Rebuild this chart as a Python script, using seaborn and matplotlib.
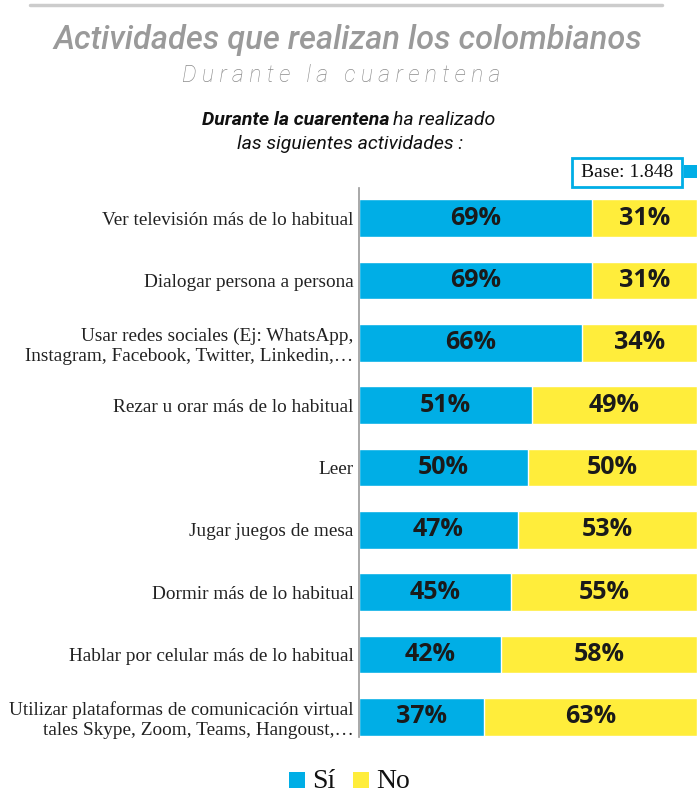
import pandas as pd
import matplotlib.pyplot as plt
import seaborn as sns
from matplotlib.patches import Rectangle

actividades = [
    "Ver televisión más de lo habitual",
    "Dialogar persona a persona",
    "Usar redes sociales (Ej: WhatsApp,\nInstagram, Facebook, Twitter, Linkedin,…",
    "Rezar u orar más de lo habitual",
    "Leer",
    "Jugar juegos de mesa",
    "Dormir más de lo habitual",
    "Hablar por celular más de lo habitual",
    "Utilizar plataformas de comunicación virtual\ntales Skype, Zoom, Teams, Hangoust,…",
]
si = [69, 69, 66, 51, 50, 47, 45, 42, 37]
no = [31, 31, 34, 49, 50, 53, 55, 58, 63]

AZUL = "#00AEE6"
AMARILLO = "#FFED3B"

df = pd.DataFrame({"actividad": actividades, "si": si, "no": no})
df["total"] = df["si"] + df["no"]

sns.set_style("white")
fig = plt.figure(figsize=(7, 7.94), dpi=100)
ax = fig.add_axes([0.513, 0.072, 0.483, 0.691])

sns.barplot(data=df, y="actividad", x="total", color=AMARILLO, orient="h",
            width=0.6, ax=ax, saturation=1)
sns.barplot(data=df, y="actividad", x="si", color=AZUL, orient="h",
            width=0.6, ax=ax, saturation=1)

ax.set_xlim(0, 100)
ax.set_ylim(len(df) - 1 + 0.32, -0.48)
ax.set_xlabel("")
ax.set_ylabel("")
ax.set_xticks([])
for s in ["top", "right", "bottom"]:
    ax.spines[s].set_visible(False)
ax.spines["left"].set_color("#999999")
ax.spines["left"].set_linewidth(1.2)
ax.tick_params(axis="y", length=0, pad=4)
for lbl in ax.get_yticklabels():
    lbl.set_fontfamily("Liberation Serif")
    lbl.set_fontsize(13.9)
    lbl.set_color("#222222")
    lbl.set_horizontalalignment("right")
    lbl.set_multialignment("right")

# etiquetas de porcentaje
for i, row in df.iterrows():
    ax.text(row["si"] / 2, i, f"{row['si']}%", ha="center", va="center",
            fontsize=18, fontweight="bold", family="Open Sans", color="#1a1a1a")
    ax.text(row["si"] + row["no"] / 2, i, f"{row['no']}%", ha="center", va="center",
            fontsize=18, fontweight="bold", family="Open Sans", color="#1a1a1a")

# linea superior
fig.add_artist(plt.Line2D([30 / 700, 662 / 700], [1 - 5 / 794, 1 - 5 / 794],
                          color="#cccccc", lw=2.5))

fig.text(0.497, 1 - 40 / 794, "Actividades que realizan los colombianos",
         ha="center", va="center", fontsize=23.5, style="italic", family="Roboto",
         color="#9a9a9a", fontweight="medium")
fig.text(0.487, 1 - 75 / 794, "D u r a n t e   l a   c u a r e n t e n a",
         ha="center", va="center", fontsize=16.5, style="italic", family="Roboto",
         color="#8c8c8c", fontweight="light")

fig.text(390 / 700, 1 - 120 / 794, "Durante la cuarentena", ha="right", va="center",
         fontsize=14, style="italic", fontweight="bold", family="Roboto", color="#111111")
fig.text(393 / 700, 1 - 120 / 794, "ha realizado", ha="left", va="center",
         fontsize=14, style="italic", family="Roboto", color="#111111")
fig.text(350 / 700, 1 - 144 / 794, "las siguientes actividades :", ha="center", va="center",
         fontsize=14, style="italic", family="Roboto", color="#111111")

# caja base
fig.add_artist(Rectangle((572 / 700, 1 - 187 / 794), 110 / 700, 29 / 794,
                         transform=fig.transFigure, fill=False, edgecolor=AZUL, lw=2))
fig.add_artist(Rectangle((684 / 700, 1 - 178 / 794), 13 / 700, 13 / 794,
                         transform=fig.transFigure, color=AZUL, lw=0))
fig.text(627 / 700, 1 - 172.5 / 794, "Base: 1.848", ha="center", va="center",
         fontsize=14, family="Liberation Serif", color="#111111")

# leyenda
ly = 1 - 781 / 794
fig.add_artist(Rectangle((289 / 700, 1 - 788 / 794), 16 / 700, 16 / 794,
                         transform=fig.transFigure, color=AZUL, lw=0))
fig.text(312 / 700, ly, "Sí", ha="left", va="center", fontsize=20,
         family="Liberation Serif", color="#111111")
fig.add_artist(Rectangle((353 / 700, 1 - 788 / 794), 16 / 700, 16 / 794,
                         transform=fig.transFigure, color=AMARILLO, lw=0))
fig.text(376 / 700, ly, "No", ha="left", va="center", fontsize=20,
         family="Liberation Serif", color="#111111")

fig.savefig("out.png", dpi=100)
